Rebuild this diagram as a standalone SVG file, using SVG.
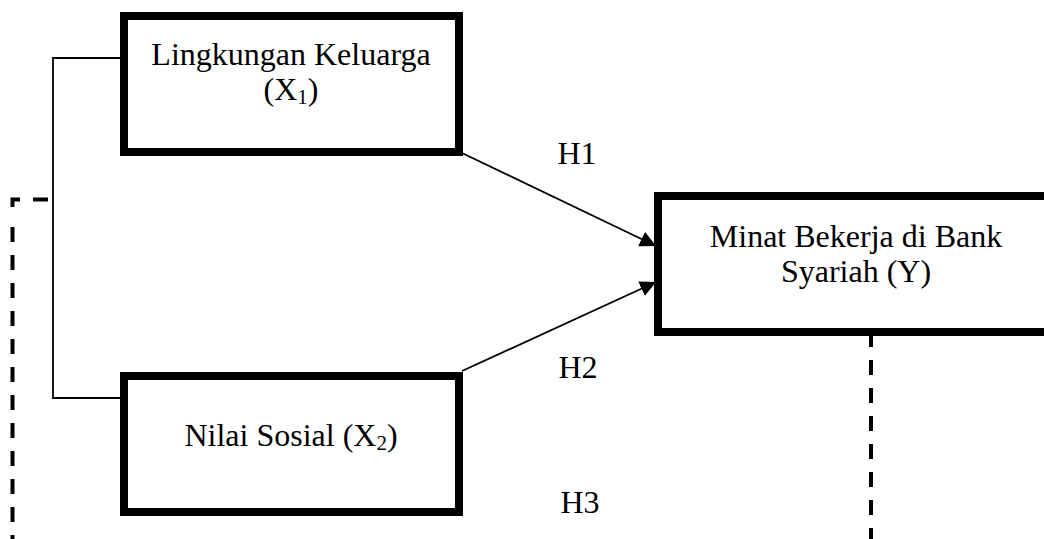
<svg xmlns="http://www.w3.org/2000/svg" width="1044" height="539" viewBox="0 0 1044 539">
<style>
.box{fill:#fff;stroke:#000;stroke-width:8}
.t{font-family:"Liberation Serif","Times New Roman",serif;font-size:32px;fill:#000;text-anchor:middle}
.sub{font-size:21px}
.thin{fill:none;stroke:#000;stroke-width:1.8}
.dash{fill:none;stroke:#000;stroke-width:4;stroke-dasharray:15 13}
</style>
<defs>
<marker id="ah" viewBox="0 0 10 10" refX="10" refY="5" markerWidth="16" markerHeight="16" markerUnits="userSpaceOnUse" orient="auto">
<path d="M0,0 L10,5 L0,10 Z" fill="#000"/>
</marker>
</defs>
<g id="connectors">
<path class="thin" d="M120,58 H53 V398 H120"/>
<line class="thin" x1="462" y1="153" x2="656" y2="246" marker-end="url(#ah)"/>
<line class="thin" x1="462" y1="371" x2="656" y2="282" marker-end="url(#ah)"/>
<path class="dash" d="M48,199.5 H12.5 V212"/>
<line class="dash" x1="12.5" y1="227" x2="12.5" y2="545"/>
<line class="dash" x1="871" y1="332" x2="871" y2="545"/>
</g>
<g id="labels">
<text class="t" x="577" y="164">H1</text>
<text class="t" x="578" y="378">H2</text>
<text class="t" x="580" y="513">H3</text>
</g>
<g id="node-x1">
<rect class="box" x="124" y="16" width="335" height="136"/>
<text class="t" x="291" y="65">Lingkungan Keluarga</text>
<text class="t" x="291" y="100">(X<tspan class="sub" dy="4">1</tspan><tspan dy="-4">)</tspan></text>
</g>
<g id="node-x2">
<rect class="box" x="124" y="376" width="335" height="136"/>
<text class="t" x="291" y="446">Nilai Sosial (X<tspan class="sub" dy="4">2</tspan><tspan dy="-4">)</tspan></text>
</g>
<g id="node-y">
<rect class="box" x="658" y="196" width="400" height="136"/>
<text class="t" x="856" y="247">Minat Bekerja di Bank</text>
<text class="t" x="856" y="282">Syariah (Y)</text>
</g>
</svg>
